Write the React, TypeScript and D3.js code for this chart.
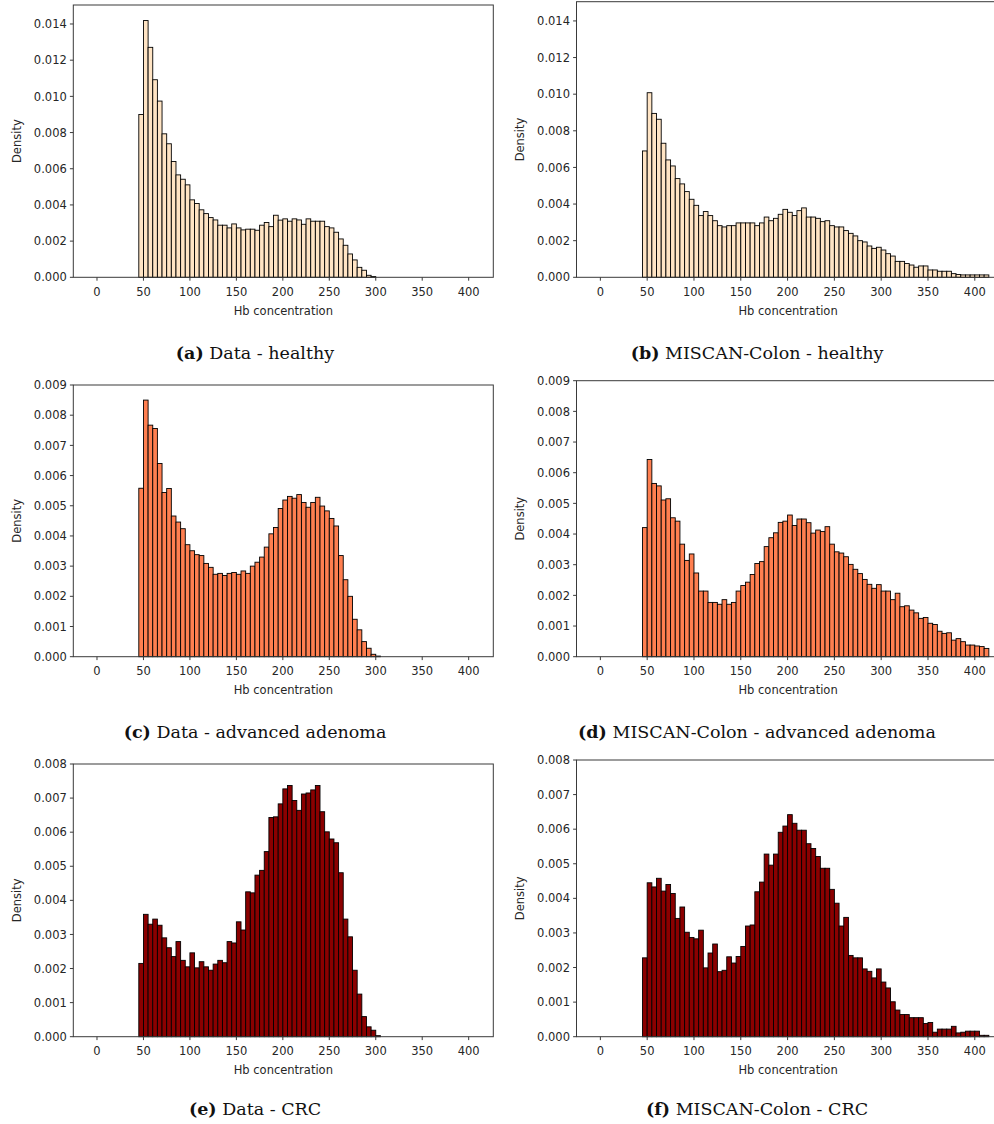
import React from "react";
import * as d3 from "d3";

// Histogram bins: every series starts at 45 with bins 5 units wide.
const binStart = 45;
const binWidth = 5;

const xDomain: [number, number] = [-25.5, 426.5];
const xTicks = [0, 50, 100, 150, 200, 250, 300, 350, 400];
const yTicksHealthy = [0, 0.002, 0.004, 0.006, 0.008, 0.01, 0.012, 0.014];
const yTicksAdenoma = [0, 0.001, 0.002, 0.003, 0.004, 0.005, 0.006, 0.007, 0.008, 0.009];
const yTicksCrc = [0, 0.001, 0.002, 0.003, 0.004, 0.005, 0.006, 0.007, 0.008];

// (a) Data - healthy
const dataHealthy = [
  0.009, 0.01419, 0.01271, 0.01092, 0.00974, 0.00793, 0.00738, 0.0064, 0.00566, 0.00542,
  0.00511, 0.00428, 0.00408, 0.00373, 0.00352, 0.0033, 0.00317, 0.00288, 0.00288, 0.00273,
  0.00295, 0.00273, 0.00262, 0.00266, 0.00266, 0.0026, 0.00288, 0.00303, 0.0028, 0.00343,
  0.00316, 0.00323, 0.0031, 0.00323, 0.00317, 0.00293, 0.00323, 0.0031, 0.0031, 0.0031,
  0.0028, 0.00273, 0.00249, 0.00212, 0.00177, 0.00129, 0.00096, 0.00055, 0.00039, 0.00011,
  0.00004,
];

// (b) MISCAN-Colon - healthy
const modelHealthy = [
  0.0069, 0.01008, 0.00895, 0.00863, 0.00732, 0.00641, 0.00608, 0.00539, 0.0051, 0.00468,
  0.00426, 0.00393, 0.00337, 0.00359, 0.00337, 0.00309, 0.00282, 0.00275, 0.00282, 0.00282,
  0.00297, 0.00297, 0.00297, 0.00297, 0.00282, 0.00297, 0.00329, 0.00309, 0.00322, 0.00344,
  0.00371, 0.00355, 0.00337, 0.00364, 0.00379, 0.00329, 0.00329, 0.00322, 0.00304, 0.00309,
  0.00282, 0.00275, 0.00275, 0.00255, 0.0024, 0.00226, 0.002, 0.00193, 0.00171, 0.00158,
  0.00164, 0.00149, 0.00129, 0.00116, 0.00087, 0.00087, 0.00075, 0.00067, 0.00055, 0.00062,
  0.00062, 0.0004, 0.0004, 0.00033, 0.00033, 0.00033, 0.0002, 0.00015, 0.00013, 0.00013,
  0.00013, 0.00013, 0.00013, 0.00013,
];

// (c) Data - advanced adenoma
const dataAdenoma = [
  0.00558, 0.0085, 0.00767, 0.00756, 0.0064, 0.00544, 0.00557, 0.00466, 0.00446, 0.00424,
  0.00371, 0.00351, 0.00338, 0.00335, 0.00309, 0.00296, 0.00273, 0.00276, 0.00269, 0.00276,
  0.00279, 0.00273, 0.00284, 0.00276, 0.003, 0.00313, 0.0033, 0.00363, 0.00407, 0.00428,
  0.00491, 0.00519, 0.00531, 0.00525, 0.00537, 0.00511, 0.00495, 0.00511, 0.00528, 0.00499,
  0.00483, 0.00458, 0.00433, 0.00335, 0.00255, 0.002, 0.00124, 0.00089, 0.0005, 0.00028,
  0.00008, 0.00002,
];

// (d) MISCAN-Colon - advanced adenoma
const modelAdenoma = [
  0.00421, 0.00643, 0.00565, 0.00557, 0.00511, 0.00515, 0.00453, 0.00442, 0.00367, 0.00314,
  0.00335, 0.00273, 0.00214, 0.00214, 0.00177, 0.00177, 0.00171, 0.00186, 0.00171, 0.00177,
  0.00214, 0.00232, 0.00243, 0.00268, 0.00304, 0.0031, 0.00359, 0.00388, 0.00404, 0.00438,
  0.00442, 0.00462, 0.00428, 0.00449, 0.00449, 0.00437, 0.00403, 0.00413, 0.00408, 0.00424,
  0.00367, 0.00342, 0.00338, 0.00326, 0.00301, 0.00285, 0.00271, 0.00252, 0.00236, 0.00223,
  0.00235, 0.00214, 0.00214, 0.00186, 0.00207, 0.00163, 0.00166, 0.00152, 0.00143, 0.00125,
  0.00128, 0.00109, 0.00105, 0.00083, 0.00076, 0.00078, 0.00054, 0.00059, 0.00049, 0.00038,
  0.00038, 0.00035, 0.00033, 0.00027,
];

// (e) Data - CRC
const dataCrc = [
  0.00215, 0.00359, 0.0033, 0.00345, 0.00327, 0.0029, 0.00261, 0.00235, 0.00279, 0.00224,
  0.00205, 0.00246, 0.00202, 0.0022, 0.00205, 0.00195, 0.00213, 0.00224, 0.00217, 0.00279,
  0.00275, 0.00337, 0.00313, 0.00425, 0.00422, 0.00474, 0.00488, 0.00543, 0.00643, 0.00645,
  0.00683, 0.00727, 0.00737, 0.00693, 0.00664, 0.00712, 0.00715, 0.00724, 0.00737, 0.0066,
  0.00601, 0.0058, 0.00569, 0.00481, 0.00345, 0.00293, 0.00195, 0.00125, 0.00059, 0.00029,
  0.00019, 0.00003,
];

// (f) MISCAN-Colon - CRC
const modelCrc = [
  0.00228, 0.00445, 0.00433, 0.00458, 0.00421, 0.0044, 0.00414, 0.00342, 0.00375, 0.00302,
  0.00287, 0.00283, 0.00308, 0.00199, 0.00242, 0.00268, 0.00188, 0.00192, 0.00231, 0.00213,
  0.00232, 0.00261, 0.0032, 0.00323, 0.00419, 0.00447, 0.00528, 0.00496, 0.00528, 0.00591,
  0.00609, 0.00642, 0.00617, 0.00597, 0.00597, 0.00558, 0.00544, 0.00521, 0.00487, 0.00487,
  0.00426, 0.00386, 0.0032, 0.00345, 0.00235, 0.00228, 0.00228, 0.00196, 0.00189, 0.0017,
  0.00196, 0.00158, 0.00141, 0.00101, 0.00077, 0.00064, 0.00064, 0.00055, 0.00055, 0.00055,
  0.00038, 0.00041, 0.00013, 0.00022, 0.00022, 0.00022, 0.0003, 0.00011, 0.00013, 0.00016,
  0.00016, 0.00016, 0.00004, 0.00004,
];

const captionLetters = ["(a)", "(b)", "(c)", "(d)", "(e)", "(f)"];
const captionTexts = [
  "Data - healthy",
  "MISCAN-Colon - healthy",
  "Data - advanced adenoma",
  "MISCAN-Colon - advanced adenoma",
  "Data - CRC",
  "MISCAN-Colon - CRC",
];

const fillHealthy = "#ffe4c4";
const fillAdenoma = "#ff7f50";
const fillCrc = "#8b0000";

type PanelSpec = {
  values: number[];
  yMax: number;
  yTicks: number[];
  fill: string;
  left: number;
  right: number;
  top: number;
  bottom: number;
  captionX: number;
  captionY: number;
  densityX: number;
  idx: number;
};

const W = 994;
const H = 1124;

const LEFT_COL = { left: 73.3, right: 493.3, densityX: 16.5, captionX: 255 };
const RIGHT_COL = { left: 576.5, right: 999.6, densityX: 519.5, captionX: 757 };

const panels: PanelSpec[] = [
  { values: dataHealthy, yMax: 0.01505, yTicks: yTicksHealthy, fill: fillHealthy, ...LEFT_COL, top: 5, bottom: 277.3, captionY: 358.5, idx: 0 },
  { values: modelHealthy, yMax: 0.01505, yTicks: yTicksHealthy, fill: fillHealthy, ...RIGHT_COL, top: 1.7, bottom: 277.3, captionY: 358.5, idx: 1 },
  { values: dataAdenoma, yMax: 0.009, yTicks: yTicksAdenoma, fill: fillAdenoma, ...LEFT_COL, top: 385, bottom: 656.7, captionY: 737.5, idx: 2 },
  { values: modelAdenoma, yMax: 0.009, yTicks: yTicksAdenoma, fill: fillAdenoma, ...RIGHT_COL, top: 380.7, bottom: 656.7, captionY: 737.5, idx: 3 },
  { values: dataCrc, yMax: 0.008, yTicks: yTicksCrc, fill: fillCrc, ...LEFT_COL, top: 764, bottom: 1036.7, captionY: 1115, idx: 4 },
  { values: modelCrc, yMax: 0.008, yTicks: yTicksCrc, fill: fillCrc, ...RIGHT_COL, top: 760, bottom: 1036.7, captionY: 1115, idx: 5 },
];

const AXIS_FONT = "'DejaVu Sans', sans-serif";
const AXIS_SIZE = 11.5;
const TEXT_COLOR = "#262626";
const SPINE_COLOR = "#3a3a3a";
const fmtY = d3.format(".3f");

function Histogram({ p }: { p: PanelSpec }) {
  const x = d3.scaleLinear().domain(xDomain).range([p.left, p.right]);
  const y = d3.scaleLinear().domain([0, p.yMax]).range([p.bottom, p.top]);
  const bins = p.values.map((v, i) => ({
    x0: binStart + i * binWidth,
    x1: binStart + (i + 1) * binWidth,
    v,
  }));
  const midY = (p.top + p.bottom) / 2;
  const midX = (p.left + p.right) / 2;
  return (
    <g>
      {bins.map((b, i) => (
        <rect
          key={i}
          x={x(b.x0)}
          y={y(b.v)}
          width={x(b.x1) - x(b.x0)}
          height={y(0) - y(b.v)}
          fill={p.fill}
          stroke="#000"
          strokeWidth={0.9}
        />
      ))}
      {/* frame */}
      <rect
        x={p.left}
        y={p.top}
        width={p.right - p.left}
        height={p.bottom - p.top}
        fill="none"
        stroke={SPINE_COLOR}
        strokeWidth={1}
      />
      {/* y axis */}
      {p.yTicks.map((t) => (
        <g key={"y" + t}>
          <line x1={p.left - 3.4} x2={p.left} y1={y(t)} y2={y(t)} stroke={SPINE_COLOR} strokeWidth={1} />
          <text
            x={p.left - 6.5}
            y={y(t)}
            dy="0.36em"
            textAnchor="end"
            fontFamily={AXIS_FONT}
            fontSize={AXIS_SIZE}
            fill={TEXT_COLOR}
          >
            {fmtY(t)}
          </text>
        </g>
      ))}
      {/* x axis */}
      {xTicks.map((t) => (
        <g key={"x" + t}>
          <line x1={x(t)} x2={x(t)} y1={p.bottom} y2={p.bottom + 3.4} stroke={SPINE_COLOR} strokeWidth={1} />
          <text
            x={x(t)}
            y={p.bottom + 18.5}
            textAnchor="middle"
            fontFamily={AXIS_FONT}
            fontSize={AXIS_SIZE}
            fill={TEXT_COLOR}
          >
            {t}
          </text>
        </g>
      ))}
      <text
        x={midX}
        y={p.bottom + 37.5}
        textAnchor="middle"
        fontFamily={AXIS_FONT}
        fontSize={AXIS_SIZE}
        fill={TEXT_COLOR}
      >
        Hb concentration
      </text>
      <text
        transform={`translate(${p.densityX},${midY}) rotate(-90)`}
        dy="0.36em"
        textAnchor="middle"
        fontFamily={AXIS_FONT}
        fontSize={AXIS_SIZE}
        fill={TEXT_COLOR}
      >
        Density
      </text>
      <text
        x={p.captionX}
        y={p.captionY}
        textAnchor="middle"
        fontFamily="'DejaVu Serif', serif"
        fontSize={17.5}
        fill="#111"
      >
        <tspan fontWeight="bold">{captionLetters[p.idx]}</tspan>
        <tspan> {captionTexts[p.idx]}</tspan>
      </text>
    </g>
  );
}

export default function App() {
  return (
    <svg
      width={W}
      height={H}
      viewBox={`0 0 ${W} ${H}`}
      style={{ position: "absolute", left: 0, top: 0, background: "#fff", overflow: "hidden" }}
    >
      <rect x={0} y={0} width={W} height={H} fill="#fff" />
      {panels.map((p) => (
        <Histogram key={p.idx} p={p} />
      ))}
    </svg>
  );
}
